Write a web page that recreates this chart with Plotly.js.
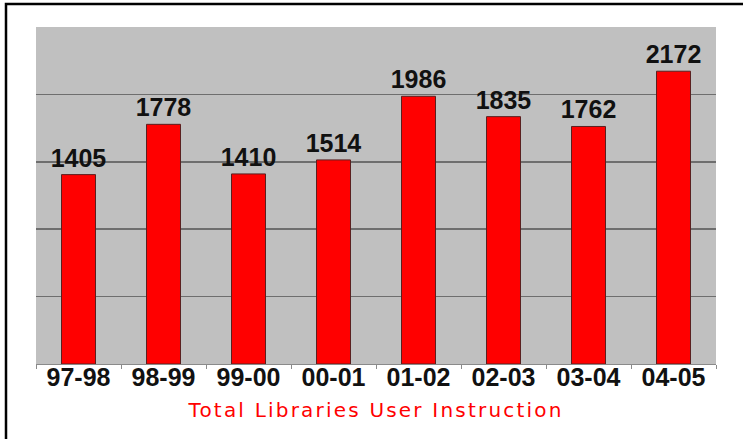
<!DOCTYPE html>
<html><head><meta charset="utf-8">
<script src="https://cdn.plot.ly/plotly-3.0.1.min.js"></script>
<style>html,body{margin:0;padding:0;background:#fff;} .xtitle{letter-spacing:2.2px;}</style>
</head><body>
<div id="chart" style="width:743px;height:439px;"></div>
<script>
const years = ["97-98","98-99","99-00","00-01","01-02","02-03","03-04","04-05"];
const instructions = [1405,1778,1410,1514,1986,1835,1762,2172];
const titleText = "Total Libraries User Instruction";

const W = 743, H = 439, L = 36, R = 27, T = 27, B = 75;
const pw = W - L - R, ph = H - T - B;
const px = x => (x - L) / pw;
const py = y => (H - B - y) / ph;

Plotly.newPlot('chart', [{
  type: 'bar',
  x: years,
  y: instructions,
  text: instructions.map(String),
  textposition: 'outside',
  constraintext: 'none',
  cliponaxis: false,
  textfont: {family: "'Liberation Sans', Arial, sans-serif", size: 25, color: '#111', weight: 'bold'},
  marker: {color: '#ff0000', line: {color: '#5a2020', width: 1}},
  hoverinfo: 'none'
}], {
  width: W, height: H,
  margin: {l: L, r: R, t: T, b: B, pad: 0},
  paper_bgcolor: '#ffffff',
  plot_bgcolor: '#c0c0c0',
  bargap: 0.6,
  showlegend: false,
  xaxis: {
    type: 'category',
    tickson: 'boundaries',
    ticks: 'outside', ticklen: 4, tickcolor: '#8a8a8a', tickwidth: 1,
    ticklabelstandoff: -9,
    showline: true, linecolor: '#8a8a8a', linewidth: 1,
    showgrid: false,
    tickfont: {family: "'Liberation Sans', Arial, sans-serif", size: 25, color: '#111', weight: 'bold'},
    title: {text: titleText, font: {family: "'DejaVu Sans', sans-serif", size: 20, color: '#ff0000'}, standoff: 12}
  },
  yaxis: {
    range: [0, 2500],
    dtick: 500,
    showticklabels: false,
    ticks: '',
    showgrid: true, gridcolor: '#6e6e6e', gridwidth: 1.5,
    zeroline: false,
    showline: false
  },
  shapes: [{
    type: 'rect', xref: 'paper', yref: 'paper',
    x0: px(6), x1: px(760), y0: py(460), y1: py(4),
    line: {color: '#000', width: 2.5}, fillcolor: 'rgba(0,0,0,0)', layer: 'below'
  }]
}, {displayModeBar: false, staticPlot: true});
</script>
</body></html>
